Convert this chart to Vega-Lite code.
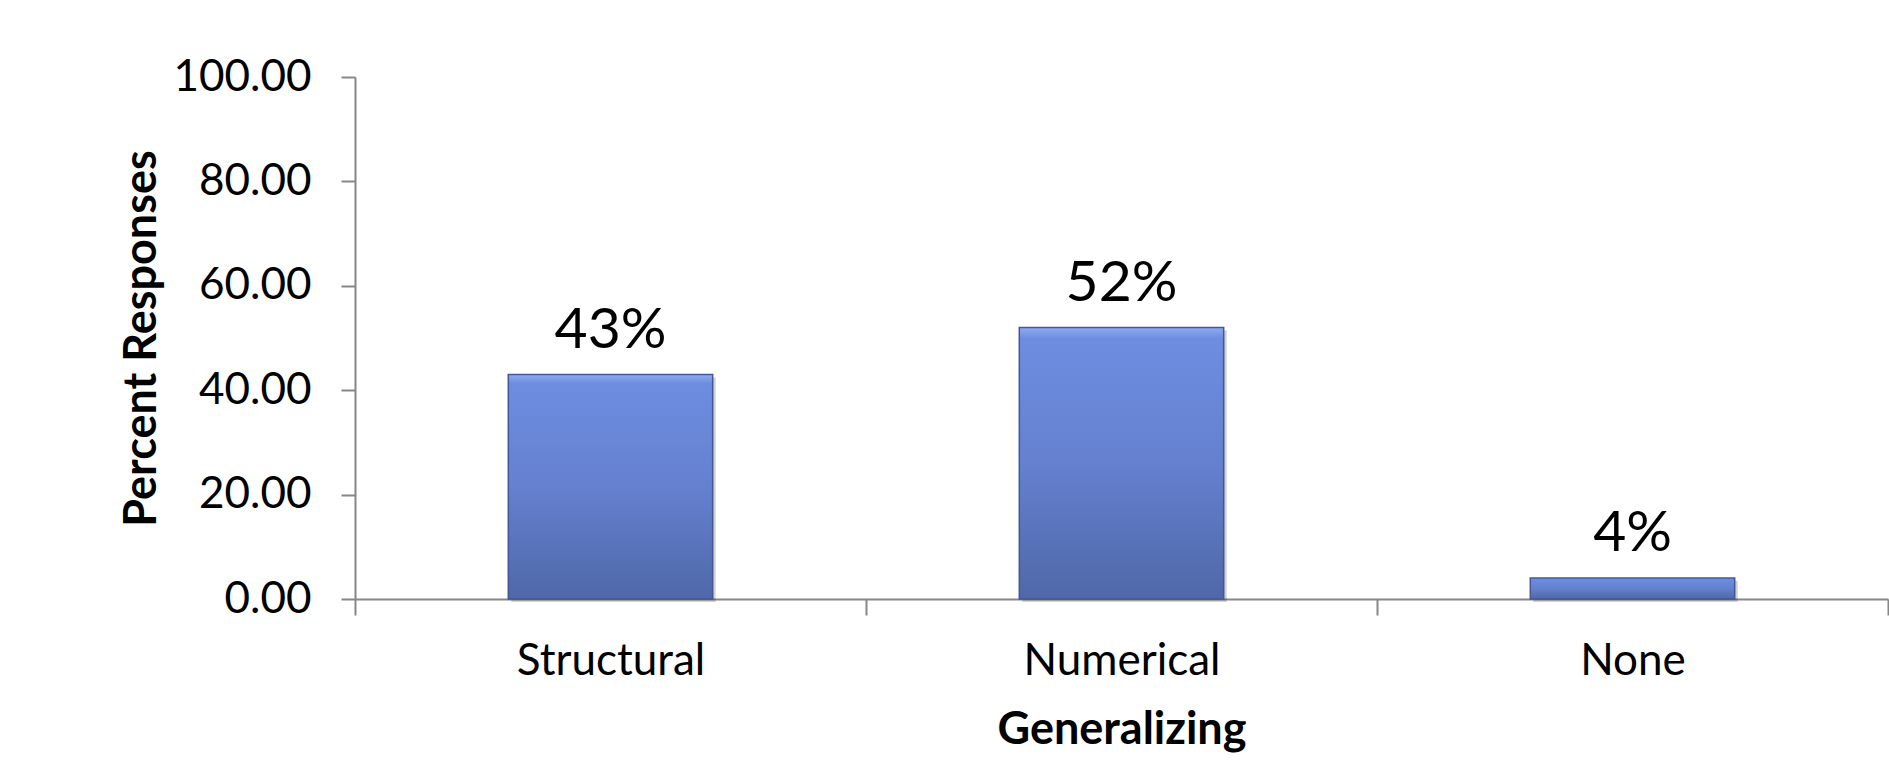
{
  "$schema": "https://vega.github.io/schema/vega-lite/v6.json",
  "autosize": "none",
  "width": 1533,
  "height": 522,
  "padding": {"left": 355, "top": 77, "right": 1, "bottom": 162},
  "background": "white",
  "config": {
    "view": {"stroke": null},
    "font": "Lato",
    "axis": {
      "domainColor": "#868686",
      "domainWidth": 2,
      "tickColor": "#868686",
      "tickWidth": 2,
      "grid": false,
      "labelFont": "Lato",
      "labelFontSize": 44,
      "labelLimit": 0,
      "labelColor": "#000000",
      "titleFont": "Lato",
      "titleFontSize": 45,
      "titleFontWeight": "bold",
      "titleColor": "#000000"
    }
  },
  "data": {
    "values": [
      {"category": "Structural", "percent": 43, "label": "43%"},
      {"category": "Numerical", "percent": 52, "label": "52%"},
      {"category": "None", "percent": 4, "label": "4%"}
    ]
  },
  "encoding": {
    "x": {
      "field": "category",
      "type": "nominal",
      "sort": null,
      "title": "Generalizing",
      "scale": {"paddingInner": 0, "paddingOuter": 0},
      "axis": {
        "labelAngle": 0,
        "tickBand": "extent",
        "tickSize": 16,
        "labelPadding": 24,
        "titlePadding": 24
      }
    },
    "y": {
      "field": "percent",
      "type": "quantitative",
      "title": "Percent Responses",
      "scale": {"domain": [0, 100], "nice": false},
      "axis": {
        "values": [0, 20, 40, 60, 80, 100],
        "format": ".2f",
        "tickSize": 14,
        "labelPadding": 30,
        "titlePadding": 9
      }
    }
  },
  "layer": [
    {
      "mark": {
        "type": "bar",
        "width": {"band": 0.4},
        "color": "#000000",
        "opacity": 0.18,
        "xOffset": 3,
        "yOffset": 3
      }
    },
    {
      "mark": {
        "type": "bar",
        "width": {"band": 0.4},
        "stroke": "#41579a",
        "strokeWidth": 1.5,
        "color": {
          "gradient": "linear",
          "x1": 0, "y1": 0, "x2": 0, "y2": 1,
          "stops": [
            {"offset": 0, "color": "#8fabf0"},
            {"offset": 0.04, "color": "#6d8de0"},
            {"offset": 0.5, "color": "#6580cf"},
            {"offset": 1, "color": "#4f68a8"}
          ]
        }
      }
    },
    {
      "mark": {
        "type": "text",
        "font": "Lato",
        "fontSize": 57,
        "baseline": "alphabetic",
        "dy": -27,
        "color": "#000000"
      },
      "encoding": {"text": {"field": "label"}}
    }
  ]
}
